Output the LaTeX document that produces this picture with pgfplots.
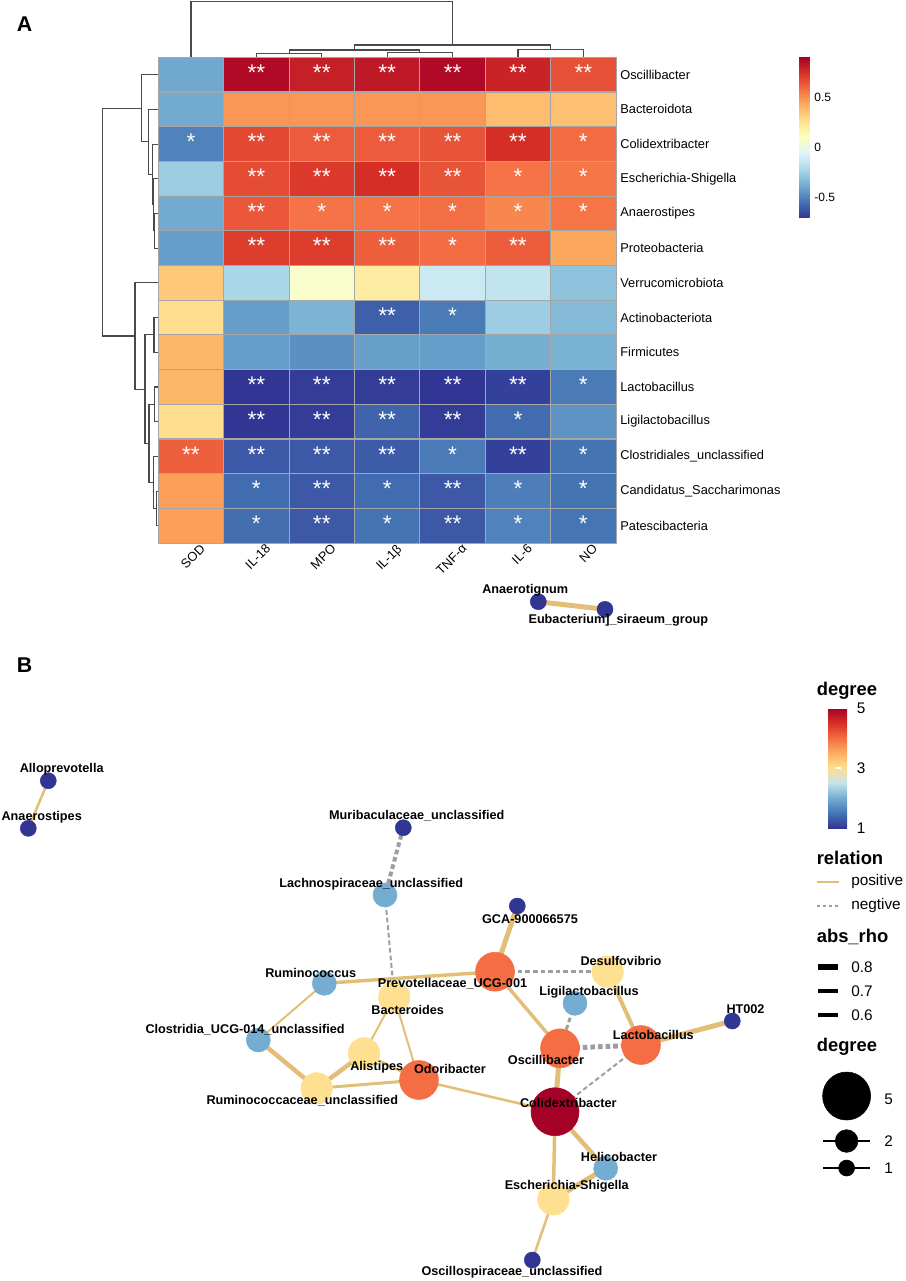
\documentclass[border=0pt]{standalone}
\usepackage{fontspec}
\setmainfont{Liberation Sans}
\usepackage{pgfplots}
\pgfplotsset{compat=1.18}

\definecolor{posedge}{HTML}{E2BF78}
\definecolor{negedge}{HTML}{9E9E9E}
\definecolor{tree}{HTML}{4A4A4A}
\definecolor{cellgrid}{HTML}{A6A6A6}

\pgfplotsset{
  colormap={rdylbu}{rgb255=(49,54,149) rgb255=(69,117,180) rgb255=(116,173,209)
    rgb255=(171,217,233) rgb255=(224,243,248) rgb255=(255,255,191) rgb255=(254,224,144)
    rgb255=(253,174,97) rgb255=(244,109,67) rgb255=(215,48,39) rgb255=(165,0,38)},
  colormap={degmap}{rgb255=(49,54,149) rgb255=(69,117,180) rgb255=(116,173,209)
    rgb255=(197,227,236) rgb255=(254,224,144) rgb255=(253,174,97) rgb255=(244,109,67)
    rgb255=(215,48,39) rgb255=(165,0,38)},
  canvas/.style={at={(0pt,0pt)}, anchor=north west, scale only axis,
    width=679.5pt, height=960.75pt, xmin=0, xmax=906, ymin=0, ymax=1281,
    y dir=reverse, hide axis, clip=false},
}
\newcommand{\fsz}[1]{\fontsize{#1pt}{#1pt}\selectfont}
\tikzset{
  pe/.style={draw=posedge, line width=#1},
  ne/.style={draw=negedge, line width=#1, dash pattern=on 3.5pt off 2.2pt},
  lab/.style={font=\bfseries\fsz{9.5}, inner sep=0pt},
  ttl/.style={font=\bfseries\fsz{13.8}, inner sep=0pt, anchor=west},
  leg/.style={font=\fsz{11.5}, inner sep=0pt, anchor=west},
  rowlab/.style={font=\fsz{9.6}, inner sep=0pt, anchor=west, xshift=3pt},
  collab/.style={font=\fsz{9.6}, inner sep=0pt, anchor=north east, rotate=45, xshift=4.5pt, yshift=-4.5pt},
}

\begin{document}
\begin{tikzpicture}
\path[use as bounding box] (0pt,0pt) rectangle (679.5pt,-960.75pt);

% canvas in pixel units: dendrograms, network and its legend keys
\begin{axis}[canvas, colormap name=degmap, point meta min=1, point meta max=5]

% column dendrogram
\addplot[tree, line width=0.8pt] coordinates {(256.4,56.5) (256.4,53.3) (321.8,53.3) (321.8,56.5)};
\addplot[tree, line width=0.8pt] coordinates {(387.2,56.5) (387.2,52.7) (452.6,52.7) (452.6,56.5)};
\addplot[tree, line width=0.8pt] coordinates {(518.0,56.5) (518.0,49.3) (583.4,49.3) (583.4,56.5)};
\addplot[tree, line width=0.8pt] coordinates {(289.1,53.3) (289.1,50) (419.9,50) (419.9,52.7)};
\addplot[tree, line width=0.8pt] coordinates {(354.5,50) (354.5,45) (550.7,45) (550.7,49.3)};
\addplot[tree, line width=0.8pt] coordinates {(191.0,56.5) (191.0,1.7) (452.6,1.7) (452.6,45)};

% row dendrogram
\addplot[tree, line width=0.8pt] coordinates {(157.5,213.45) (154.3,213.45) (154.3,248.15) (157.5,248.15)};
\addplot[tree, line width=0.8pt] coordinates {(157.5,178.75) (153.3,178.75) (153.3,230.8) (154.3,230.8)};
\addplot[tree, line width=0.8pt] coordinates {(157.5,144.05) (152.3,144.05) (152.3,204.8) (153.3,204.8)};
\addplot[tree, line width=0.8pt] coordinates {(157.5,109.35) (148.3,109.35) (148.3,174.4) (152.3,174.4)};
\addplot[tree, line width=0.8pt] coordinates {(157.5,74.65) (141.7,74.65) (141.7,141.9) (148.3,141.9)};
\addplot[tree, line width=0.8pt] coordinates {(157.5,317.55) (154,317.55) (154,352.25) (157.5,352.25)};
\addplot[tree, line width=0.8pt] coordinates {(157.5,386.95) (154.3,386.95) (154.3,421.65) (157.5,421.65)};
\addplot[tree, line width=0.8pt] coordinates {(157.5,491.05) (156.5,491.05) (156.5,525.75) (157.5,525.75)};
\addplot[tree, line width=0.8pt] coordinates {(157.5,456.35) (153.5,456.35) (153.5,508.4) (156.5,508.4)};
\addplot[tree, line width=0.8pt] coordinates {(154.3,404.3) (149,404.3) (149,482.4) (153.5,482.4)};
\addplot[tree, line width=0.8pt] coordinates {(154,334.9) (145,334.9) (145,443.35) (149,443.35)};
\addplot[tree, line width=0.8pt] coordinates {(157.5,282.85) (135,282.85) (135,389.1) (145,389.1)};
\addplot[tree, line width=0.8pt] coordinates {(141.7,108.3) (102.3,108.3) (102.3,336) (135,336)};

% network edges
\addplot[pe=3.75pt] coordinates {(538.3,601.7) (605,609.3)};
\addplot[pe=1.9pt] coordinates {(48.3,780.7) (28.3,828.3)};
\addplot[ne=3pt] coordinates {(403.3,827.7) (385,895)};
\addplot[ne=1.5pt] coordinates {(385,895) (394.3,997.3)};
\addplot[pe=2.6pt] coordinates {(324.3,983.3) (495,971.7)};
\addplot[pe=1.5pt] coordinates {(324.3,983.3) (258.3,1040)};
\addplot[pe=3.4pt] coordinates {(258.3,1040) (316.7,1088.3)};
\addplot[pe=3.4pt] coordinates {(316.7,1088.3) (364,1053.3)};
\addplot[pe=2.25pt] coordinates {(316.7,1088.3) (419,1080)};
\addplot[pe=1.5pt] coordinates {(364,1053.3) (394.3,997.3)};
\addplot[pe=1.9pt] coordinates {(364,1053.3) (419,1080)};
\addplot[pe=1.5pt] coordinates {(394.3,997.3) (419,1080)};
\addplot[pe=1.9pt] coordinates {(419,1080) (555,1111.7)};
\addplot[pe=3.75pt] coordinates {(517.3,906) (495,971.7)};
\addplot[ne=1.9pt] coordinates {(495,971.7) (607.7,971.7)};
\addplot[pe=2.6pt] coordinates {(495,971.7) (560,1048.3)};
\addplot[pe=3pt] coordinates {(607.7,971.7) (641,1045)};
\addplot[ne=2.25pt] coordinates {(575,1003.3) (560,1048.3)};
\addplot[ne=3.75pt] coordinates {(560,1048.3) (641,1045)};
\addplot[pe=3.75pt] coordinates {(560,1048.3) (555,1111.7)};
\addplot[pe=3.75pt] coordinates {(641,1045) (732.3,1021)};
\addplot[ne=1.5pt] coordinates {(641,1045) (555,1111.7)};
\addplot[pe=3.4pt] coordinates {(555,1111.7) (605.7,1168.3)};
\addplot[pe=2.6pt] coordinates {(555,1111.7) (553.3,1199.3)};
\addplot[pe=3.75pt] coordinates {(605.7,1168.3) (553.3,1199.3)};
\addplot[pe=1.9pt] coordinates {(553.3,1199.3) (532.3,1260)};

% network nodes: colour = degree, radius (pt) grows with degree
\addplot[scatter, only marks, mark=*, point meta=explicit,
  scatter/use mapped color={draw=mapped color, fill=mapped color},
  visualization depends on={\thisrow{r} \as \rad},
  scatter/@pre marker code/.append style={/tikz/mark size=\rad}]
table[x=x, y=y, meta=d] {
x y d r
538.3 601.7 1 6
605.0 609.3 1 6
48.3 780.7 1 6
28.3 828.3 1 6
403.3 827.7 1 6
385.0 895.0 2 9
517.3 906.0 1 6
495.0 971.7 4 14.6
607.7 971.7 3 11.8
324.3 983.3 2 9
394.3 997.3 3 11.8
575.0 1003.3 2 9
732.3 1021.0 1 6
258.3 1040.0 2 9
641.0 1045.0 4 14.6
560.0 1048.3 4 14.6
364.0 1053.3 3 11.8
419.0 1080.0 4 14.6
316.7 1088.3 3 11.8
555.0 1111.7 5 18
605.7 1168.3 2 9
553.3 1199.3 3 11.8
532.3 1260.0 1 6
};

% legend keys
\addplot[pe=1.5pt] coordinates {(817,882) (839,882)};
\addplot[draw=negedge, line width=1.3pt, dash pattern=on 2.5pt off 2pt] coordinates {(817,906) (839,906)};
\addplot[black, line width=4.1pt] coordinates {(818.4,967) (838,967)};
\addplot[black, line width=3.4pt] coordinates {(818.4,991) (838,991)};
\addplot[black, line width=2.6pt] coordinates {(818.4,1015) (838,1015)};
\addplot[black, line width=1pt] coordinates {(823,1141) (870,1141)};
\addplot[black, line width=1pt] coordinates {(823,1168) (870,1168)};
\addplot[only marks, mark=*, black, mark size=18pt] coordinates {(846.6,1096)};
\addplot[only marks, mark=*, black, mark size=8.5pt] coordinates {(846.6,1141)};
\addplot[only marks, mark=*, black, mark size=6pt] coordinates {(846.6,1168)};
\end{axis}

% heatmap
\begin{axis}[at={(118.725pt,-42.975pt)}, anchor=north west, scale only axis,
  width=343.35pt, height=364.35pt, xmin=-0.5, xmax=6.5, ymin=-0.5, ymax=13.5,
  y dir=reverse, enlargelimits=false, clip=false, axis on top,
  colormap name=rdylbu, point meta min=-0.697, point meta max=0.903,
  xtick={-0.5,0.5,...,6.5}, ytick={-0.5,0.5,...,13.5},
  xticklabels={}, yticklabels={}, major tick length=0pt,
  grid=major, major grid style={draw=cellgrid, line width=0.8pt},
  axis line style={draw=cellgrid, line width=0.8pt}]
\addplot[matrix plot*, mesh/cols=7, point meta=explicit] table[x=x, y=y, meta=v] {
x y v
0 0 -0.39
1 0 0.87
2 0 0.80
3 0 0.82
4 0 0.87
5 0 0.79
6 0 0.66
0 1 -0.385
1 1 0.48
2 1 0.48
3 1 0.48
4 1 0.48
5 1 0.38
6 1 0.37
0 2 -0.50
1 2 0.68
2 2 0.63
3 2 0.63
4 2 0.65
5 2 0.75
6 2 0.59
0 3 -0.26
1 3 0.67
2 3 0.72
3 3 0.75
4 3 0.65
5 3 0.57
6 3 0.56
0 4 -0.385
1 4 0.64
2 4 0.57
3 4 0.57
4 4 0.58
5 4 0.52
6 4 0.565
0 5 -0.42
1 5 0.71
2 5 0.71
3 5 0.62
4 5 0.585
5 5 0.625
6 5 0.44
0 6 0.34
1 6 -0.22
2 6 0.07
3 6 0.20
4 6 -0.12
5 6 -0.15
6 6 -0.30
0 7 0.27
1 7 -0.42
2 7 -0.35
3 7 -0.59
4 7 -0.52
5 7 -0.26
6 7 -0.33
0 8 0.40
1 8 -0.42
2 8 -0.46
3 8 -0.415
4 8 -0.42
5 8 -0.37
6 8 -0.36
0 9 0.40
1 9 -0.70
2 9 -0.68
3 9 -0.68
4 9 -0.70
5 9 -0.67
6 9 -0.52
0 10 0.27
1 10 -0.70
2 10 -0.68
3 10 -0.58
4 10 -0.68
5 10 -0.56
6 10 -0.45
0 11 0.62
1 11 -0.61
2 11 -0.61
3 11 -0.60
4 11 -0.52
5 11 -0.67
6 11 -0.54
0 12 0.46
1 12 -0.56
2 12 -0.61
3 12 -0.56
4 12 -0.61
5 12 -0.51
6 12 -0.54
0 13 0.46
1 13 -0.555
2 13 -0.61
3 13 -0.54
4 13 -0.61
5 13 -0.50
6 13 -0.537
};
% significance marks
\addplot[draw=none, mark=none, point meta=explicit symbolic, nodes near coords,
  every node near coord/.append style={white, font=\fsz{17}, inner sep=0pt, anchor=center, yshift=1.5pt}]
coordinates {
(1,0)[**] (2,0)[**] (3,0)[**] (4,0)[**] (5,0)[**] (6,0)[**]
(0,2)[*] (1,2)[**] (2,2)[**] (3,2)[**] (4,2)[**] (5,2)[**] (6,2)[*]
(1,3)[**] (2,3)[**] (3,3)[**] (4,3)[**] (5,3)[*] (6,3)[*]
(1,4)[**] (2,4)[*] (3,4)[*] (4,4)[*] (5,4)[*] (6,4)[*]
(1,5)[**] (2,5)[**] (3,5)[**] (4,5)[*] (5,5)[**]
(3,7)[**] (4,7)[*]
(1,9)[**] (2,9)[**] (3,9)[**] (4,9)[**] (5,9)[**] (6,9)[*]
(1,10)[**] (2,10)[**] (3,10)[**] (4,10)[**] (5,10)[*]
(0,11)[**] (1,11)[**] (2,11)[**] (3,11)[**] (4,11)[*] (5,11)[**] (6,11)[*]
(1,12)[*] (2,12)[**] (3,12)[*] (4,12)[**] (5,12)[*] (6,12)[*]
(1,13)[*] (2,13)[**] (3,13)[*] (4,13)[**] (5,13)[*] (6,13)[*]
};
\node[rowlab] at (6.5,0) {Oscillibacter};
\node[rowlab] at (6.5,1) {Bacteroidota};
\node[rowlab] at (6.5,2) {Colidextribacter};
\node[rowlab] at (6.5,3) {Escherichia-Shigella};
\node[rowlab] at (6.5,4) {Anaerostipes};
\node[rowlab] at (6.5,5) {Proteobacteria};
\node[rowlab] at (6.5,6) {Verrucomicrobiota};
\node[rowlab] at (6.5,7) {Actinobacteriota};
\node[rowlab] at (6.5,8) {Firmicutes};
\node[rowlab] at (6.5,9) {Lactobacillus};
\node[rowlab] at (6.5,10) {Ligilactobacillus};
\node[rowlab] at (6.5,11) {Clostridiales\_unclassified};
\node[rowlab] at (6.5,12) {Candidatus\_Saccharimonas};
\node[rowlab] at (6.5,13) {Patescibacteria};
\node[collab] at (0,13.5) {SOD};
\node[collab] at (1,13.5) {IL-18};
\node[collab] at (2,13.5) {MPO};
\node[collab] at (3,13.5) {IL-1β};
\node[collab] at (4,13.5) {TNF-α};
\node[collab] at (5,13.5) {IL-6};
\node[collab] at (6,13.5) {NO};
\end{axis}

% heatmap colour key
\begin{axis}[at={(590.8pt,-42.5pt)}, anchor=north west, hide axis, scale only axis,
  width=0pt, height=0pt, xmin=0, xmax=1, ymin=0, ymax=1,
  colormap name=rdylbu, point meta min=-0.697, point meta max=0.903,
  colorbar, colorbar style={at={(parent axis.north west)}, anchor=north west,
    width=7.95pt, height=120.45pt, ytick={-0.5,0,0.5}, yticklabels={-0.5,0,0.5},
    yticklabel style={font=\fsz{9}, anchor=west}, major tick length=0pt,
    axis line style={draw=none}}]
\addplot[draw=none] coordinates {(0,0)};
\end{axis}

% degree colour key
\begin{axis}[at={(612.5pt,-531pt)}, anchor=north west, hide axis, scale only axis,
  width=0pt, height=0pt, xmin=0, xmax=1, ymin=0, ymax=1,
  colormap name=degmap, point meta min=1, point meta max=5,
  colorbar, colorbar style={at={(parent axis.north west)}, anchor=north west,
    width=18pt, height=90pt, ytick={1,3,5}, yticklabels={1,3,5},
    yticklabel style={font=\fsz{11.5}, anchor=west}, major tick length=0pt,
    axis line style={draw=none}}]
\addplot[draw=none] coordinates {(0,0)};
\end{axis}

% overlay for texts, so that they lie above the nodes and keys
\begin{axis}[canvas]
\addplot[draw=none] coordinates {(0,0)};
% white ticks on the degree key
\addplot[white, line width=0.8pt] coordinates {(816.7,768) (821.5,768)};
\addplot[white, line width=0.8pt] coordinates {(835.9,768) (840.7,768)};

\node[lab] at (525.2,590) {Anaerotignum};
\node[lab] at (618.3,620.7) {Eubacterium]\_siraeum\_group};
\node[lab] at (61.7,769.3) {Alloprevotella};
\node[lab] at (41.7,817.3) {Anaerostipes};
\node[lab] at (416.7,816) {Muribaculaceae\_unclassified};
\node[lab] at (371.3,884) {Lachnospiraceae\_unclassified};
\node[lab] at (530,919) {GCA-900066575};
\node[lab] at (452.5,984) {Prevotellaceae\_UCG-001};
\node[lab] at (621,961) {Desulfovibrio};
\node[lab] at (310.7,972.7) {Ruminococcus};
\node[lab] at (407.7,1010) {Bacteroides};
\node[lab] at (589,992.3) {Ligilactobacillus};
\node[lab] at (745.5,1009.3) {HT002};
\node[lab, anchor=east] at (345,1029.3) {Clostridia\_UCG-014\_unclassified};
\node[lab] at (376.7,1067.3) {Alistipes};
\node[lab] at (450,1069.3) {Odoribacter};
\node[lab] at (546,1060) {Oscillibacter};
\node[lab, anchor=east] at (398.3,1100.7) {Ruminococcaceae\_unclassified};
\node[lab] at (653.3,1035) {Lactobacillus};
\node[lab] at (568.3,1103.3) {Colidextribacter};
\node[lab] at (619,1156.7) {Helicobacter};
\node[lab] at (566.7,1186.7) {Escherichia-Shigella};
\node[lab] at (512,1271.7) {Oscillospiraceae\_unclassified};

\node[font=\bfseries\fsz{16}, inner sep=0pt] at (24.7,24) {A};
\node[font=\bfseries\fsz{16}, inner sep=0pt] at (24.7,665) {B};

\node[ttl] at (816.5,691) {degree};
\node[ttl] at (816.5,858) {relation};
\node[leg] at (851,882) {positive};
\node[leg] at (851,906) {negtive};
\node[ttl] at (816.5,937) {abs\_rho};
\node[leg] at (851,967) {0.8};
\node[leg] at (851,991) {0.7};
\node[leg] at (851,1015) {0.6};
\node[ttl] at (816.5,1047) {degree};
\node[leg] at (884,1099) {5};
\node[leg] at (884,1141) {2};
\node[leg] at (884,1168) {1};
\end{axis}
\end{tikzpicture}
\end{document}
